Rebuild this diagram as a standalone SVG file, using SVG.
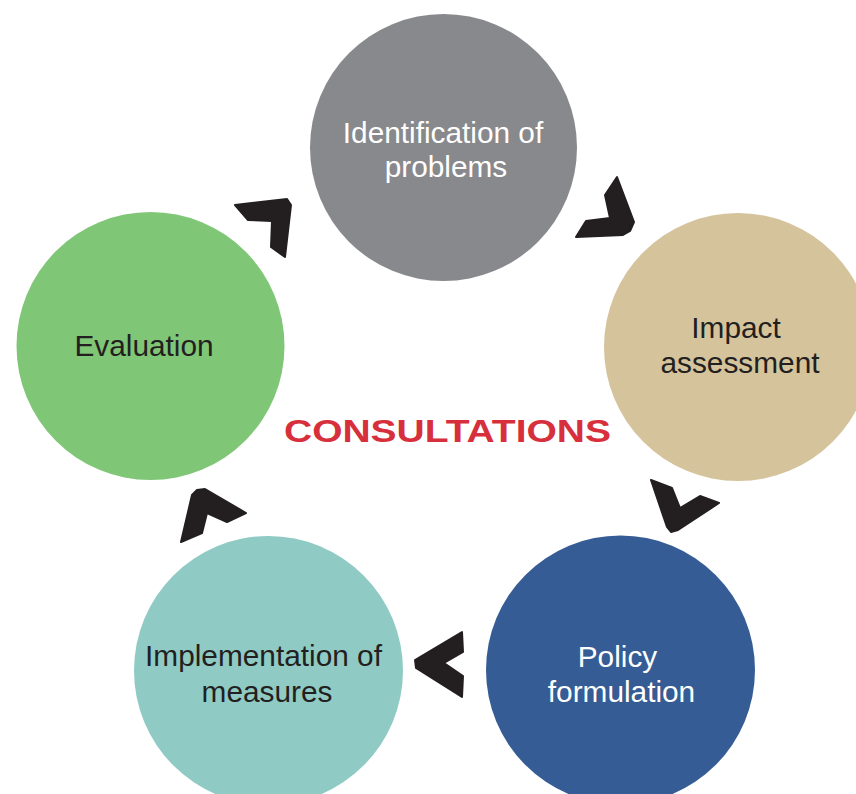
<svg xmlns="http://www.w3.org/2000/svg" width="856" height="794" viewBox="0 0 856 794">
<style>
  .lbl { font-family: "Liberation Sans", Arial, Helvetica, sans-serif; font-size: 29.8px; text-anchor: middle; }
  .dark { fill: #231f20; }
  .light { fill: #ffffff; }
  .chev { fill: #231f20; stroke: #231f20; stroke-width: 2; stroke-linejoin: round; }
  .title { font-family: "Liberation Sans", Arial, Helvetica, sans-serif; font-weight: bold; font-size: 31px; fill: #d72f3c; }
</style>
<rect width="856" height="794" fill="#ffffff"/>
<g id="identification">
  <circle cx="443.5" cy="147.5" r="133.5" fill="#88898c"/>
  <text class="lbl light" x="443" y="142.5">Identification of</text>
  <text class="lbl light" x="446" y="176.5">problems</text>
</g>
<g id="impact">
  <circle cx="738" cy="347" r="134" fill="#d5c39c"/>
  <text class="lbl dark" x="736" y="338">Impact</text>
  <text class="lbl dark" x="740" y="373">assessment</text>
</g>
<g id="policy">
  <circle cx="620.5" cy="670" r="134.5" fill="#355c94"/>
  <text class="lbl light" x="617.5" y="667">Policy</text>
  <text class="lbl light" x="621.5" y="702">formulation</text>
</g>
<g id="implementation">
  <circle cx="268.5" cy="670.5" r="134.5" fill="#8fcbc4"/>
  <text class="lbl dark" x="263.5" y="666">Implementation of</text>
  <text class="lbl dark" x="267" y="702">measures</text>
</g>
<g id="evaluation">
  <circle cx="150.5" cy="346" r="134" fill="#80c677"/>
  <text class="lbl dark" x="144" y="356">Evaluation</text>
</g>
<g id="connectors">
  <polygon class="chev" points="235,205 287,199 291,205 285,257 271,247 272,221 248,220"/>
  <polygon class="chev" points="617,177 634,222 630,231 623,235 576,237 586,221 610,218 605,195"/>
  <polygon class="chev" points="651,480 672,488 680,508 700,496 719,503 678,530 671,532 667,527"/>
  <polygon class="chev" points="462,632 463,652 444,663 463,676 462,697 416,668 415,660"/>
  <polygon class="chev" points="192,495 197,490 205,489 246,513 227,522 207,513 202,533 181,542"/>
</g>
<g id="center-label">
  <text class="title" x="284" y="442" textLength="327" lengthAdjust="spacingAndGlyphs">CONSULTATIONS</text>
</g>
</svg>
